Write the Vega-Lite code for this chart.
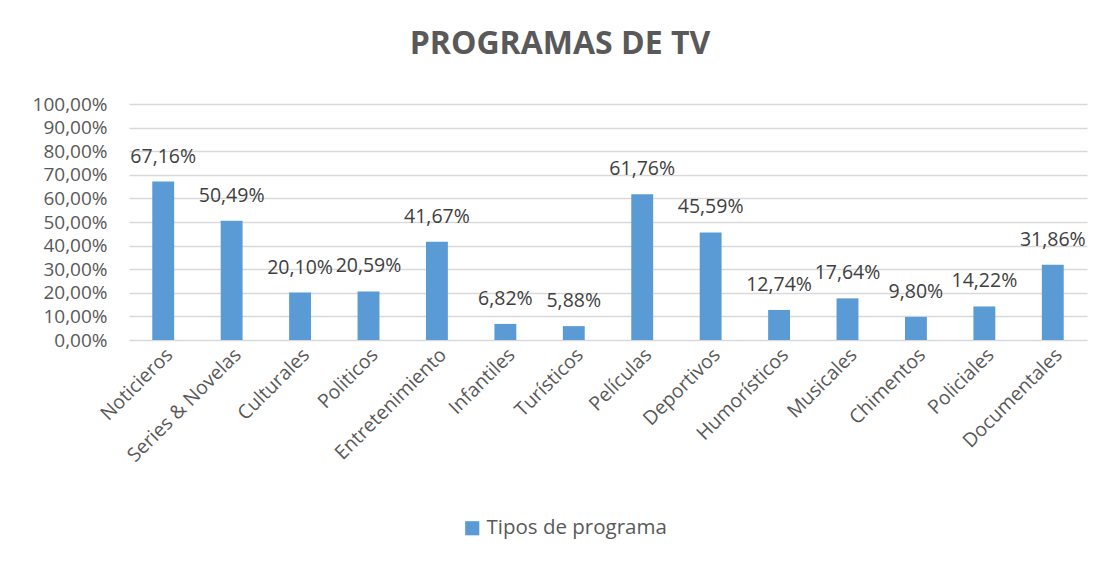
{
  "$schema": "https://vega.github.io/schema/vega-lite/v6.json",
  "autosize": "none",
  "width": 958,
  "height": 236,
  "padding": {"left": 129, "top": 104, "right": 18, "bottom": 225},
  "background": "white",
  "title": {"text": "PROGRAMAS DE TV", "fontSize": 32, "font": "Open Sans", "fontWeight": "bold", "color": "#595959", "anchor": "middle", "frame": "group", "dx": -48, "offset": 34},
  "config": {
    "locale": {"number": {"decimal": ",", "thousands": ".", "grouping": [3], "currency": ["", "€"]}},
    "view": {"stroke": null},
    "font": "Open Sans"
  },
  "data": {"values": [
    {"programa": "Noticieros", "valor": 0.6716, "serie": "Tipos de programa"},
    {"programa": "Series & Novelas", "valor": 0.5049, "serie": "Tipos de programa"},
    {"programa": "Culturales", "valor": 0.2010, "serie": "Tipos de programa"},
    {"programa": "Politicos", "valor": 0.2059, "serie": "Tipos de programa"},
    {"programa": "Entretenimiento", "valor": 0.4167, "serie": "Tipos de programa"},
    {"programa": "Infantiles", "valor": 0.0682, "serie": "Tipos de programa"},
    {"programa": "Turísticos", "valor": 0.0588, "serie": "Tipos de programa"},
    {"programa": "Películas", "valor": 0.6176, "serie": "Tipos de programa"},
    {"programa": "Deportivos", "valor": 0.4559, "serie": "Tipos de programa"},
    {"programa": "Humorísticos", "valor": 0.1274, "serie": "Tipos de programa"},
    {"programa": "Musicales", "valor": 0.1764, "serie": "Tipos de programa"},
    {"programa": "Chimentos", "valor": 0.0980, "serie": "Tipos de programa"},
    {"programa": "Policiales", "valor": 0.1422, "serie": "Tipos de programa"},
    {"programa": "Documentales", "valor": 0.3186, "serie": "Tipos de programa"}
  ]},
  "encoding": {
    "x": {"field": "programa", "type": "nominal", "sort": null,
      "scale": {"paddingInner": 0.68, "paddingOuter": 0.34},
      "axis": {"title": null, "labelAngle": -45, "labelFontSize": 19.5, "labelColor": "#595959", "ticks": false, "domain": false, "labelPadding": 5, "labelFont": "Open Sans"}},
    "y": {"field": "valor", "type": "quantitative",
      "scale": {"domain": [0, 1]},
      "axis": {"title": null, "format": ".2%", "values": [0, 0.1, 0.2, 0.3, 0.4, 0.5, 0.6, 0.7, 0.8, 0.9, 1], "labelFontSize": 19, "labelColor": "#595959", "ticks": false, "domain": false, "gridColor": "#D9D9D9", "gridWidth": 1.5, "labelPadding": 22, "labelFont": "Open Sans"}}
  },
  "layer": [
    {"mark": {"type": "bar", "color": "#5B9BD5"},
      "encoding": {"color": {"field": "serie", "type": "nominal", "scale": {"range": ["#5B9BD5"]},
        "legend": {"title": null, "orient": "none", "legendX": 333, "legendY": 414, "symbolType": "square", "symbolSize": 200, "labelFontSize": 20.5, "labelLimit": 0, "labelColor": "#595959", "labelFont": "Open Sans", "symbolStrokeWidth": 0}}}},
    {"mark": {"type": "text", "baseline": "bottom", "dy": -15, "fontSize": 19.5, "color": "#404040", "font": "Open Sans"},
      "encoding": {"text": {"field": "valor", "type": "quantitative", "format": ".2%"}}}
  ]
}
